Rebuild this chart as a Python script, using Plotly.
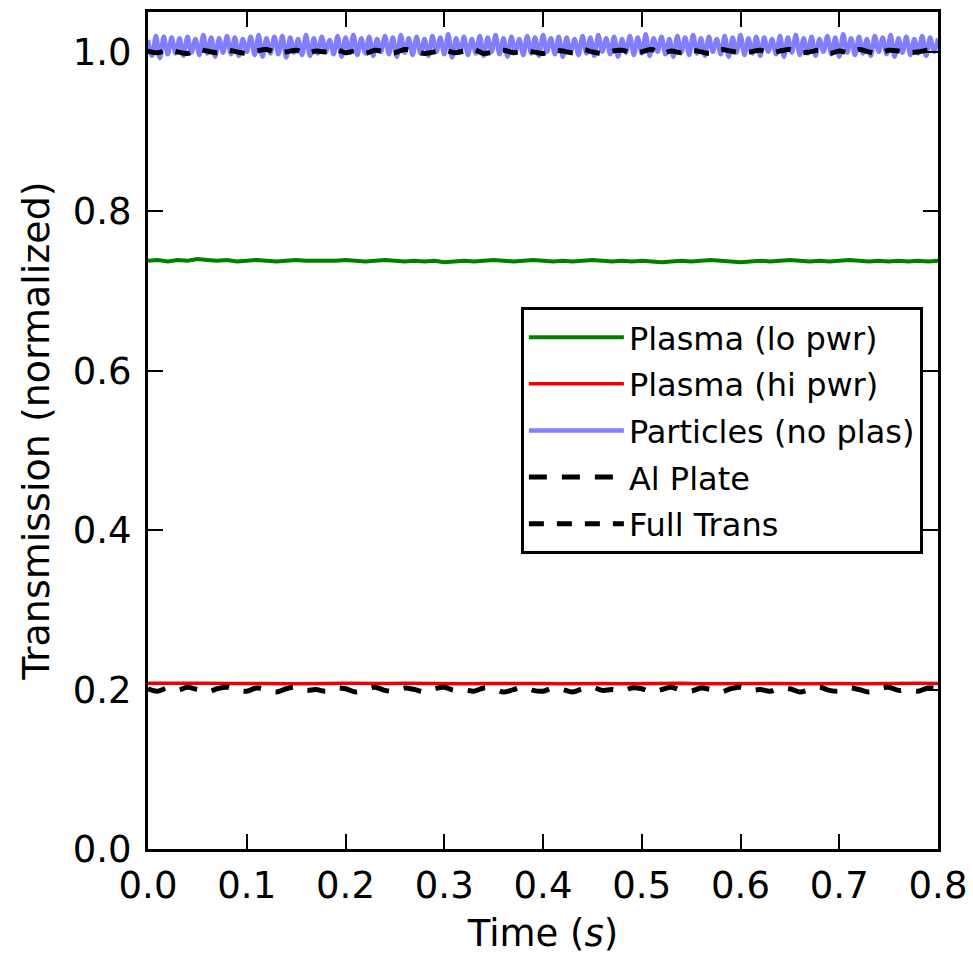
import numpy as np
import plotly.graph_objects as go

# Normalized transmission traces vs time (s)
plasma_lo = [
    0.738, 0.739, 0.737, 0.739, 0.738, 0.740, 0.739, 0.738, 0.739, 0.737,
    0.738, 0.739, 0.738, 0.737, 0.738, 0.739, 0.738, 0.738, 0.737, 0.738,
    0.739, 0.738, 0.737, 0.738, 0.739, 0.738, 0.737, 0.738, 0.737, 0.738,
    0.736, 0.737, 0.738, 0.737, 0.738, 0.739, 0.738, 0.737, 0.738, 0.739,
    0.738, 0.737, 0.738, 0.737, 0.738, 0.739, 0.738, 0.737, 0.738, 0.737,
    0.738, 0.737, 0.736, 0.737, 0.738, 0.737, 0.738, 0.739, 0.738, 0.737,
    0.736, 0.737, 0.738, 0.737, 0.738, 0.739, 0.738, 0.737, 0.738, 0.737,
    0.738, 0.739, 0.738, 0.737, 0.738, 0.737, 0.738, 0.737, 0.738, 0.737,
    0.738,
]

plasma_hi = [
    0.2080, 0.2076, 0.2082, 0.2078, 0.2075, 0.2080, 0.2077, 0.2074, 0.2079, 0.2076,
    0.2078, 0.2073, 0.2077, 0.2080, 0.2075, 0.2078, 0.2074, 0.2077, 0.2079, 0.2075,
    0.2077, 0.2074, 0.2078, 0.2076, 0.2073, 0.2077, 0.2075, 0.2078, 0.2074, 0.2076,
    0.2079, 0.2075, 0.2077, 0.2074, 0.2078, 0.2076, 0.2073, 0.2077, 0.2075, 0.2078,
    0.2076,
]

particles = [
    1.015, 0.995, 1.020, 0.992, 1.019, 0.997, 1.018, 0.998, 1.017, 0.995,
    1.019, 0.999, 1.016, 0.996, 1.021, 0.998, 1.018, 0.994, 1.017, 0.999,
    1.020, 0.997, 1.018, 0.995, 1.016, 1.000, 1.019, 0.996, 1.021, 0.994,
    1.017, 0.998, 1.019, 0.997, 1.020, 0.993, 1.018, 0.999, 1.016, 0.996,
    1.021, 0.995, 1.017, 0.998, 1.019, 1.000, 1.015, 0.997, 1.020, 0.994,
    1.018, 0.999, 1.021, 0.996, 1.017, 0.998, 1.019, 0.995, 1.016, 1.000,
    1.020, 0.997, 1.018, 0.994, 1.021, 0.999, 1.017, 0.996, 1.019, 0.998,
    1.016, 0.995, 1.020, 1.000, 1.018, 0.997, 1.022, 0.993, 1.017, 0.999,
    1.019, 0.996, 1.016, 0.998, 1.020, 0.995, 1.018, 1.000, 1.021, 0.997,
    1.017, 0.994, 1.019, 0.999, 1.016, 0.996, 1.020, 0.998, 1.018, 0.995,
    1.021, 1.000, 1.017, 0.997, 1.019, 0.994, 1.018, 0.999, 1.016, 0.996,
    1.020, 0.998, 1.018, 0.995, 1.021, 1.000, 1.017, 0.997, 1.019, 0.994,
    1.016, 0.999, 1.020, 0.996, 1.018, 0.998, 1.022, 0.995, 1.017, 1.000,
    1.019, 0.997, 1.016, 0.994, 1.020, 0.999, 1.018, 0.996, 1.021, 0.998,
    1.017, 0.995, 1.019, 1.000, 1.016, 0.997, 1.020, 0.994, 1.018, 0.999,
    1.021, 0.996, 1.017, 0.998, 1.019, 0.995, 1.018, 1.000, 1.016, 0.997,
    1.020, 0.994, 1.018, 0.999, 1.021, 0.996, 1.017, 0.998, 1.019, 0.995,
    1.016, 1.000, 1.020, 0.997, 1.018, 0.994, 1.022, 0.999, 1.017, 0.996,
    1.019, 0.998, 1.016, 0.995, 1.020, 1.000, 1.018, 0.997, 1.021, 0.994,
    1.017, 0.999, 1.019, 0.996, 1.016, 0.998, 1.020, 0.995, 1.018, 1.000,
    1.017,
]

al_plate = [
    0.201, 0.198, 0.202, 0.199, 0.203, 0.200, 0.197, 0.201, 0.203, 0.199,
    0.198, 0.202, 0.200, 0.197, 0.201, 0.203, 0.199, 0.200, 0.198, 0.202,
    0.201, 0.197, 0.200, 0.203, 0.199, 0.198, 0.202, 0.200, 0.197, 0.201,
    0.203, 0.199, 0.200, 0.198, 0.202, 0.201, 0.197, 0.200, 0.203, 0.199,
    0.198, 0.202, 0.200, 0.197, 0.201, 0.203, 0.199, 0.200, 0.198, 0.202,
    0.201, 0.197, 0.200, 0.203, 0.199, 0.198, 0.202, 0.200, 0.197, 0.201,
    0.203, 0.199, 0.200, 0.198, 0.202, 0.201, 0.197, 0.200, 0.203, 0.199,
    0.198, 0.202, 0.200, 0.197, 0.201, 0.203, 0.199, 0.200, 0.198, 0.202,
    0.201,
]

full_trans = [
    1.001, 0.999, 1.002, 1.000, 0.998, 1.003, 1.001, 0.999, 1.002, 1.000,
    0.998, 1.001, 1.003, 0.999, 1.000, 1.002, 0.998, 1.001, 1.000, 1.003,
    0.999, 1.001, 0.998, 1.002, 1.000, 0.999, 1.003, 1.001, 0.998, 1.000,
    1.002, 0.999, 1.001, 1.003, 0.998, 1.000, 1.002, 0.999, 1.001, 1.000,
    0.998, 1.002, 1.001, 0.999, 1.003, 1.000, 0.998, 1.001, 1.002, 0.999,
    1.000, 1.003, 0.998, 1.001, 0.999, 1.002, 1.000, 0.998, 1.003, 1.001,
    0.999, 1.000, 1.002, 0.998, 1.001, 1.003, 0.999, 1.000, 1.002, 0.998,
    1.001, 0.999, 1.003, 1.000, 0.998, 1.002, 1.001, 0.999, 1.000, 1.002,
    1.001,
]

T_END = 0.8


def times(values):
    return np.linspace(0.0, T_END, len(values))


FONT = "DejaVu Sans"

fig = go.Figure()
fig.add_trace(go.Scatter(x=times(plasma_lo), y=plasma_lo, mode="lines",
                         name="Plasma (lo pwr)", legendgroup="a",
                         line=dict(color="#008000", width=4)))
fig.add_trace(go.Scatter(x=times(plasma_hi), y=plasma_hi, mode="lines",
                         name="Plasma (hi pwr)", legendgroup="b",
                         line=dict(color="#ee0000", width=3.5)))
fig.add_trace(go.Scatter(x=times(particles), y=particles, mode="lines",
                         name="Particles (no plas)", legendgroup="c",
                         line=dict(color="#7f7fff", width=4.5, shape="spline", smoothing=1.0)))
fig.add_trace(go.Scatter(x=times(al_plate), y=al_plate, mode="lines",
                         name="Al Plate", legendgroup="d",
                         line=dict(color="black", width=5, dash="18px,15px", shape="spline")))
fig.add_trace(go.Scatter(x=times(full_trans), y=full_trans, mode="lines",
                         name="Full Trans", legendgroup="e",
                         line=dict(color="black", width=5, dash="15px,13px", shape="spline")))

axis_common = dict(
    showline=True, linecolor="black", linewidth=3, mirror="allticks",
    ticks="inside", ticklen=15, tickwidth=1.5, tickcolor="black",
    showgrid=False, zeroline=False, automargin=False,
    tickfont=dict(family=FONT, size=37, color="black"),
)

fig.update_xaxes(range=[0, 0.8], dtick=0.1, tick0=0, tickformat=".1f",
                 title_text="Time (<i>s</i>)", title_standoff=20,
                 title_font=dict(family=FONT, size=37, color="black"),
                 ticklabelstandoff=2, **axis_common)
fig.update_yaxes(range=[0, 1.05], dtick=0.2, tick0=0, tickformat=".1f",
                 title_text="Transmission (normalized)", title_standoff=12,
                 title_font=dict(family=FONT, size=38, color="black"),
                 ticklabelstandoff=6, **axis_common)

fig.update_layout(
    width=973, height=955,
    margin=dict(l=148, r=35, t=12, b=106),
    paper_bgcolor="white", plot_bgcolor="white",
    font=dict(family=FONT, color="black"),
    showlegend=True,
    legend=dict(
        x=0.472, y=0.6476, xanchor="left", yanchor="top",
        bgcolor="white", bordercolor="black", borderwidth=3,
        font=dict(family=FONT, size=32, color="black"),
        traceorder="grouped", tracegroupgap=2,
        itemwidth=95,
    ),
)

fig.write_html("out.html")
